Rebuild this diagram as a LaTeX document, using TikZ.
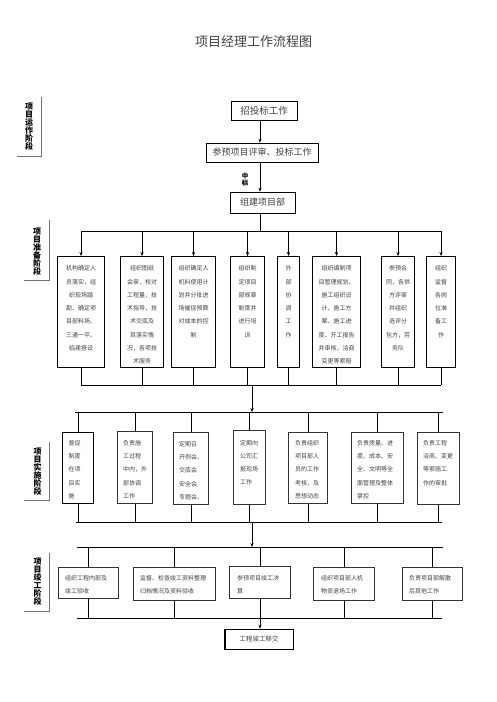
\documentclass[tikz,border=0pt]{standalone}
\usepackage{fontspec}
\setmainfont{Noto Sans CJK SC}
\usetikzlibrary{arrows.meta}
\begin{document}
\begin{tikzpicture}[x=1pt,y=-1pt,
  con/.style={draw=black, line width=0.6pt},
  arr/.style={-{Stealth[length=4pt,width=3.2pt]}},
  topbox/.style={draw=black, line width=0.6pt, inner sep=0pt, text=black!75, font=\fontsize{9}{10}\selectfont},
  boxa/.style={draw=black, line width=1.1pt, inner sep=0pt, anchor=north west},
  boxb/.style={draw=black!80, line width=0.6pt, inner sep=0pt, anchor=north west},
  txta/.style={font=\fontsize{6}{13.3}\selectfont, align=center, inner sep=0pt, text=black!75, anchor=north},
  txtb/.style={font=\fontsize{6}{13.1}\selectfont, align=left, inner sep=0pt, text=black!75, anchor=north west},
  stage/.style={font=\bfseries\fontsize{8}{8}\selectfont, align=center, inner sep=0pt},
  brk/.style={draw=black!55, line width=0.5pt}
]
\useasboundingbox (0,0) rectangle (496,702);

% title
\node[font=\fontsize{13}{13}\selectfont, text=black!75] (title) at (253.5,42) {项目经理工作流程图};

% stage labels
\node[stage] (st1) at (29,126.5) {项\\目\\运\\作\\阶\\段};
\draw[brk] (41,97) -- (41,156) -- (17,156);
\node[stage] (st2) at (37,251.5) {项\\目\\准\\备\\阶\\段};
\draw[brk] (49,220) -- (49,280) -- (24,280);
\node[stage] (st3) at (37.5,472) {项\\目\\实\\施\\阶\\段};
\draw[brk] (49,442) -- (49,500) -- (24,500);
\node[stage] (st4) at (37.5,581.5) {项\\目\\竣\\工\\阶\\段};
\draw[brk] (49,553) -- (49,611) -- (24,611);

% top flow
\coordinate (s) at (260,0);
\node[topbox, minimum width=66pt, minimum height=19pt, font=\fontsize{9.5}{10}\selectfont] (b1) at (264,110.5) {招投标工作};
\draw[line width=1.1pt] (b1.north east) -- (b1.south east) -- (b1.south west);
\node[topbox, minimum width=112pt, minimum height=19pt] (b2) at (262,152.5) {参预项目评审、投标工作};
\node[topbox, minimum width=65pt, minimum height=21pt] (b3) at (262.5,202.5) {组建项目部};
\draw[line width=1.0pt] (b3.north east) -- (b3.south east) -- (b3.south west);
\draw[con,arr] (b1.south -| s) -- (b2.north -| s);
\draw[con,arr] (b2.south -| s) -- (b3.north -| s);
\node[font=\bfseries\fontsize{6.5}{7}\selectfont, align=center, inner sep=0pt] (zb) at (245,180) {中\\标};

% stage 2 boxes
\node[boxa, minimum width=47pt, minimum height=111pt] (b21) at (57,256) {};
\node[boxa, minimum width=43pt, minimum height=111pt] (b22) at (120,256) {};
\node[boxa, minimum width=44pt, minimum height=111pt] (b23) at (171,256) {};
\node[boxa, minimum width=34pt, minimum height=111pt] (b24) at (230,256) {};
\node[boxa, minimum width=22pt, minimum height=111pt] (b25) at (277,256) {};
\node[boxa, minimum width=48pt, minimum height=111pt] (b26) at (312,256) {};
\node[boxa, minimum width=33pt, minimum height=111pt] (b27) at (381,256) {};
\node[boxa, minimum width=29pt, minimum height=111pt] (b28) at (426,256) {};

\node[txta] (t21) at ([yshift=-9.5pt]b21.north) {机构确定人\\员落实，组\\织现场踏\\勘、确定项\\目部料场、\\三通一平、\\临建搭设};
\node[txta] (t22) at ([yshift=-9.5pt]b22.north) {组织图纸\\会审，校对\\工程量，技\\术指导，技\\术交底及\\其落实情\\况，各项技\\术服务};
\node[txta] (t23) at ([yshift=-9.5pt]b23.north) {组织确定人\\机料使用计\\划并分批进\\场催促预算\\对成本的控\\制};
\node[txta] (t24) at ([yshift=-9.5pt]b24.north) {组织制\\定项目\\部规章\\制度并\\进行培\\训};
\node[txta] (t25) at ([yshift=-9.5pt]b25.north) {外\\部\\协\\调\\工\\作};
\node[txta] (t26) at ([yshift=-9.5pt]b26.north) {组织编制项\\目管理规划、\\施工组织设\\计、施工方\\案、施工进\\度、开工报告\\并审核，洽商\\变更等索赔};
\node[txta] (t27) at ([yshift=-9.5pt]b27.north) {参预合\\同，各供\\方评审\\并组织\\选评分\\包方，劳\\务队};
\node[txta] (t28) at ([yshift=-9.5pt]b28.north) {组织\\监督\\各岗\\位准\\备工\\作};

\coordinate (bus2t) at (260,231);
\coordinate (bus2b) at (252,385);
\draw[con] (b3.south -| s) -- (bus2t);
\draw[con] (b21.north |- bus2t) -- (b28.north |- bus2t);
\foreach \k in {21,...,28} {
  \draw[con,arr] (b\k.north |- bus2t) -- (b\k.north);
  \draw[con] (b\k.south) -- (b\k.south |- bus2b);
}
\draw[con] (b21.south |- bus2b) -- (b28.south |- bus2b);

% stage 3 boxes
\node[boxa, minimum width=31pt, minimum height=71pt] (b31) at (62,432) {};
\node[boxb, minimum width=35pt, minimum height=72pt] (b32) at (117,431) {};
\node[boxb, minimum width=35pt, minimum height=72pt] (b33) at (173,432) {};
\node[boxb, minimum width=32pt, minimum height=74pt] (b34) at (233,430) {};
\node[boxb, minimum width=39pt, minimum height=71pt, line width=0.9pt] (b35) at (288,432) {};
\node[boxb, minimum width=52pt, minimum height=71pt, line width=0.9pt] (b36) at (351,432) {};
\node[boxb, minimum width=42pt, minimum height=72pt] (b37) at (417,432) {};

\node[txtb] (t31) at ([xshift=6.5pt,yshift=-8.5pt]b31.north west) {督促\\制度\\在项\\目实\\施};
\node[txtb] (t32) at ([xshift=6pt,yshift=-9.5pt]b32.north west) {负责施\\工过程\\中内，外\\部协调\\工作};
\node[txtb] (t33) at ([xshift=6pt,yshift=-9.5pt]b33.north west) {定期召\\开例会、\\交底会\\安全会\\专题会、};
\node[txtb] (t34) at ([xshift=7pt,yshift=-10pt]b34.north west) {定期向\\公司汇\\报现场\\工作};
\node[txtb] (t35) at ([xshift=7pt,yshift=-8.5pt]b35.north west) {负责组织\\项目部人\\员的工作\\考核，及\\思想动态};
\node[txtb] (t36) at ([xshift=6pt,yshift=-8.5pt]b36.north west) {负责质量、进\\度、成本、安\\全、文明等全\\面管理及整体\\掌控};
\node[txtb] (t37) at ([xshift=6pt,yshift=-8.5pt]b37.north west) {负责工程\\洽商、变更\\等索赔工\\作的审批};

\coordinate (bus3t) at (252,412);
\coordinate (bus3b) at (252,522);
\draw[con,arr] (bus2b) -- (bus3t);
\draw[con] (75,412) -- (443,412);
\draw[con] (76,522) -- (442,522);
\foreach \k in {31,...,37} {
  \draw[con] (b\k.north |- bus3t) -- (b\k.north);
  \draw[con] (b\k.south) -- (b\k.south |- bus3b);
}

% stage 4 boxes
\node[boxb, minimum width=60pt, minimum height=31pt] (b41) at (58,567) {};
\node[boxb, minimum width=82pt, minimum height=33pt] (b42) at (133,567) {};
\node[boxb, minimum width=61pt, minimum height=32pt] (b43) at (229,566) {};
\node[boxb, minimum width=61pt, minimum height=33pt, line width=0.9pt] (b44) at (313,567) {};
\node[boxb, minimum width=60pt, minimum height=33pt] (b45) at (402,567) {};

\node[txtb] (t41) at ([xshift=7pt,yshift=-8.5pt]b41.north west) {组织工程内部及\\竣工验收};
\node[txtb] (t42) at ([xshift=7pt,yshift=-8.5pt]b42.north west) {监督、检查竣工资料整理\\归档情况及资料验收};
\node[txtb] (t43) at ([xshift=8pt,yshift=-9.5pt]b43.north west) {参预项目竣工决\\算};
\node[txtb] (t44) at ([xshift=8pt,yshift=-8.5pt]b44.north west) {组织项目部人机\\物资退场工作};
\node[txtb] (t45) at ([xshift=7pt,yshift=-8.5pt]b45.north west) {负责项目部解散\\后其他工作};

\coordinate (bus4t) at (252,547);
\coordinate (bus4b) at (260,618);
\draw[con,arr] (bus3b) -- (bus4t);
\draw[con] (77,547) -- (443,547);
\draw[con] (77,618) -- (442,618);
\foreach \k in {41,...,45} {
  \draw[con] (b\k.north |- bus4t) -- (b\k.north);
  \draw[con] (b\k.south) -- (b\k.south |- bus4b);
}

% final box
\node[draw=black, line width=0.6pt, inner sep=0pt, minimum width=68pt, minimum height=20pt, text=black!75, font=\fontsize{6.5}{7}\selectfont] (bf) at (259,639) {工程竣工移交};
\draw[line width=1.1pt] (bf.north west) -- (bf.south west) -- (bf.south east);
\draw[con,arr] (bus4b) -- (bf.north -| bus4b);
\end{tikzpicture}
\end{document}
